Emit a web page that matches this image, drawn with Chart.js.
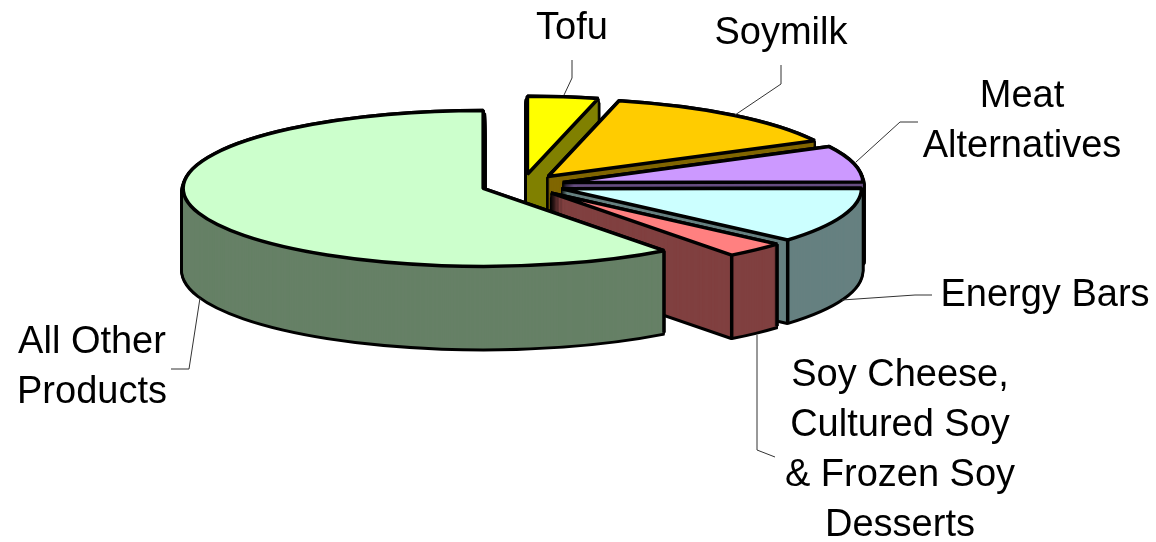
<!DOCTYPE html>
<html><head><meta charset="utf-8">
<style>html,body{margin:0;padding:0;background:#fff}#w{position:relative;width:1156px;height:542px}</style>
<script src="https://cdn.jsdelivr.net/npm/chart.js@4/dist/chart.umd.min.js"></script>
</head><body><div id="w"><canvas id="c"></canvas></div>
<script>
const categories = ['Tofu','Soymilk','Meat Alternatives','Energy Bars','Soy Cheese, Cultured Soy & Frozen Soy Desserts','All Other Products'];
const shares = [3.8,13.6,7.5,11.5,3.3,60.3];
const topColors = ['#FFFF00','#FFCC00','#CC99FF','#CCFFFF','#FF8080','#CCFFCC'];
const sideColors = ['#808000','#806600','#664D80','#668080','#804040','#668066'];

const labelLines = [['Tofu'],['Soymilk'],['Meat','Alternatives'],['Energy Bars'],
  ['Soy Cheese,','Cultured Soy','& Frozen Soy','Desserts'],['All Other','Products']];
const labelAnchors = [[572,39],[781,44],[1022,107],[1045,306],[900,386],[92,353]];
const leaders = [
  [[572,60],[572,78],[564,95]],
  [[781,65],[781,84],[735,115]],
  [[918,122],[900,122],[856,162]],
  [[932,295],[915,295],[842,300]],
  [[775,457],[757,450],[757,335]],
  [[171,369],[189,369],[200,298]]
];

const SQUASH = 0.26, DEPTH = 82, EXPLODE = 41.5, RADIUS = 300;

const pie3d = {
  id:'pie3d',
  beforeDatasetsDraw(chart){
    const ctx = chart.ctx;
    const arcs = chart.getDatasetMeta(0).data;
    const rawStroke = ctx.stroke;
    // keep pen widths round under the squashed projection
    ctx.stroke = function(){ ctx.save(); ctx.setTransform(1,0,0,1,0,0); rawStroke.call(ctx); ctx.restore(); };
    const place = (arc,d)=>{
      const mid=(arc.startAngle+arc.endAngle)/2;
      ctx.translate(arc.x,arc.y+d); ctx.scale(1,SQUASH); ctx.translate(-arc.x,-arc.y);
      ctx.translate(Math.cos(mid)*EXPLODE,Math.sin(mid)*EXPLODE);
    };
    const paint = (arc,d,over)=>{
      const saved=arc.options;
      arc.options=Object.assign({},saved,over);
      ctx.save(); place(arc,d); arc.draw(ctx); ctx.restore();
      arc.options=saved;
    };
    arcs.forEach((arc,i)=>{
      for(let d=DEPTH;d>=0;d--) paint(arc,d,{backgroundColor:'#000',borderColor:'#000',borderWidth:d>=3?6:3.5});
      for(let d=DEPTH;d>=0;d--) paint(arc,d,{backgroundColor:sideColors[i],borderWidth:0});
      const mid=(arc.startAngle+arc.endAngle)/2;
      [arc.startAngle,arc.endAngle].forEach(a=>{
        if(Math.sin(a)<=0) return;
        const x=arc.x+Math.cos(mid)*EXPLODE+Math.cos(a)*arc.outerRadius;
        const y=arc.y+(Math.sin(mid)*EXPLODE+Math.sin(a)*arc.outerRadius)*SQUASH;
        ctx.save(); ctx.strokeStyle='#000'; ctx.lineWidth=3.5;
        ctx.beginPath(); ctx.moveTo(x,y); ctx.lineTo(x,y+DEPTH); rawStroke.call(ctx); ctx.restore();
      });
      paint(arc,0,{backgroundColor:topColors[i],borderColor:'#000',borderWidth:3.5});
    });
    ctx.stroke = rawStroke;
    return false;
  },
  afterDraw(chart){
    const ctx=chart.ctx;
    ctx.save();
    ctx.strokeStyle='#333'; ctx.lineWidth=1;
    leaders.forEach(p=>{ctx.beginPath();p.forEach(([x,y],k)=>k?ctx.lineTo(x,y):ctx.moveTo(x,y));ctx.stroke();});
    ctx.fillStyle='#000'; ctx.font='38px "Liberation Sans"'; ctx.textAlign='center'; ctx.textBaseline='alphabetic';
    labelLines.forEach((lines,i)=>lines.forEach((t,k)=>ctx.fillText(t,labelAnchors[i][0],labelAnchors[i][1]+k*50)));
    ctx.restore();
  }
};

new Chart(document.getElementById('c'),{
  type:'pie',
  data:{labels:categories,datasets:[{data:shares,backgroundColor:topColors,borderColor:'#000',borderWidth:3.5}]},
  options:{responsive:true,maintainAspectRatio:false,animation:false,radius:RADIUS,
    layout:{padding:{right:111,bottom:172}},
    plugins:{legend:{display:false},tooltip:{enabled:false}}},
  plugins:[pie3d]
});
</script></body></html>
